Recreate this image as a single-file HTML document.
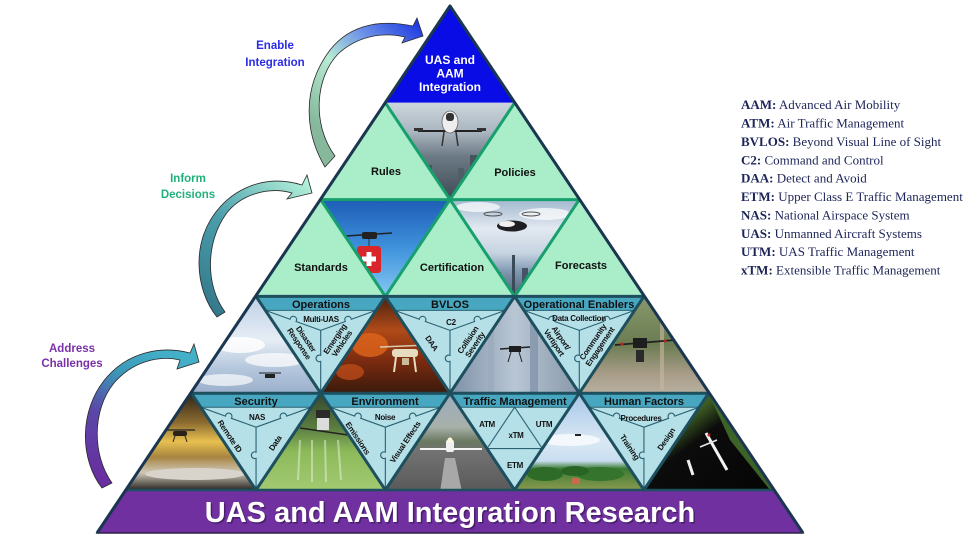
<!DOCTYPE html>
<html><head><meta charset="utf-8"><style>
html,body{margin:0;padding:0;background:#fff;}
svg{display:block;}
</style></head><body>
<svg width="975" height="538" viewBox="0 0 975 538" xmlns="http://www.w3.org/2000/svg" font-family="'Liberation Sans', Arial, sans-serif">
<defs>
 <linearGradient id="a1" gradientUnits="userSpaceOnUse" x1="322" y1="130" x2="420" y2="26">
  <stop offset="0" stop-color="#86b89c"/><stop offset="0.4" stop-color="#b8ecd4"/><stop offset="0.7" stop-color="#6a8ee8"/><stop offset="1" stop-color="#1e3be0"/>
 </linearGradient>
 <linearGradient id="a2" gradientUnits="userSpaceOnUse" x1="215" y1="312" x2="310" y2="185">
  <stop offset="0" stop-color="#347a8c"/><stop offset="0.5" stop-color="#4c9eac"/><stop offset="1" stop-color="#b2f0d8"/>
 </linearGradient>
 <linearGradient id="a3" gradientUnits="userSpaceOnUse" x1="100" y1="485" x2="160" y2="350">
  <stop offset="0" stop-color="#6a2ca0"/><stop offset="0.45" stop-color="#5a48a8"/><stop offset="0.75" stop-color="#3c98b8"/><stop offset="1" stop-color="#44b0c8"/>
 </linearGradient>

 <linearGradient id="g1" x1="0" y1="0" x2="0" y2="1"><stop offset="0" stop-color="#cbd5dc"/><stop offset="0.3" stop-color="#aab6c0"/><stop offset="0.55" stop-color="#6d7b86"/><stop offset="1" stop-color="#3e4a54"/></linearGradient>
 <linearGradient id="g2" x1="0" y1="0" x2="0" y2="1"><stop offset="0" stop-color="#1d5cb6"/><stop offset="0.5" stop-color="#3f92dc"/><stop offset="1" stop-color="#86c8f2"/></linearGradient>
 <linearGradient id="g3" x1="0" y1="0" x2="0" y2="1"><stop offset="0" stop-color="#a3b8cf"/><stop offset="0.3" stop-color="#e2e9f1"/><stop offset="0.55" stop-color="#c6d4e2"/><stop offset="0.75" stop-color="#7e96ae"/><stop offset="1" stop-color="#4d6276"/></linearGradient>
 <linearGradient id="g4" x1="0" y1="0" x2="0" y2="1"><stop offset="0" stop-color="#c0d0e6"/><stop offset="0.45" stop-color="#e6edf5"/><stop offset="0.75" stop-color="#b4c6dc"/><stop offset="1" stop-color="#9cb0cc"/></linearGradient>
 <linearGradient id="g5" x1="0" y1="0" x2="0" y2="1"><stop offset="0" stop-color="#4a2210"/><stop offset="0.35" stop-color="#b04a18"/><stop offset="0.65" stop-color="#7e2c10"/><stop offset="1" stop-color="#3a1a0c"/></linearGradient>
 <linearGradient id="g6" x1="0" y1="0" x2="1" y2="0"><stop offset="0" stop-color="#7e90a8"/><stop offset="0.5" stop-color="#b8c6d4"/><stop offset="1" stop-color="#8898aa"/></linearGradient>
 <linearGradient id="g7" x1="0" y1="0" x2="0" y2="1"><stop offset="0" stop-color="#86986c"/><stop offset="0.5" stop-color="#6c7c52"/><stop offset="0.8" stop-color="#a89c88"/><stop offset="1" stop-color="#b8b0a0"/></linearGradient>
 <linearGradient id="g8" x1="0" y1="0" x2="0" y2="1"><stop offset="0" stop-color="#2e2418"/><stop offset="0.3" stop-color="#8a6a30"/><stop offset="0.5" stop-color="#e8c050"/><stop offset="0.66" stop-color="#a88440"/><stop offset="0.82" stop-color="#cfc8b8"/><stop offset="1" stop-color="#2a2622"/></linearGradient>
 <linearGradient id="g9" x1="0" y1="0" x2="0" y2="1"><stop offset="0" stop-color="#34462c"/><stop offset="0.35" stop-color="#5a7c40"/><stop offset="0.6" stop-color="#8cba5a"/><stop offset="1" stop-color="#a2ca72"/></linearGradient>
 <linearGradient id="g10" x1="0" y1="0" x2="0" y2="1"><stop offset="0" stop-color="#9aacc0"/><stop offset="0.35" stop-color="#a8b0a8"/><stop offset="0.5" stop-color="#6a7860"/><stop offset="0.6" stop-color="#727272"/><stop offset="1" stop-color="#5a5a5a"/></linearGradient>
 <linearGradient id="g11" x1="0" y1="0" x2="0" y2="1"><stop offset="0" stop-color="#a6c6e8"/><stop offset="0.5" stop-color="#dae8f4"/><stop offset="0.7" stop-color="#c8def0"/><stop offset="0.78" stop-color="#3a7a30"/><stop offset="1" stop-color="#8a9a50"/></linearGradient>
 <linearGradient id="g12" x1="0" y1="0" x2="1" y2="1"><stop offset="0" stop-color="#6a9a42"/><stop offset="0.3" stop-color="#3a5a22"/><stop offset="0.45" stop-color="#0c0c0c"/><stop offset="1" stop-color="#050505"/></linearGradient>

 <clipPath id="c1"><polygon points="385.35,102.8 514.65,102.8 450,199.6"/></clipPath>
 <clipPath id="c2"><polygon points="320.7,199.6 450,199.6 385.35,296.4"/></clipPath>
 <clipPath id="c3"><polygon points="450,199.6 579.3,199.6 514.65,296.4"/></clipPath>
 <clipPath id="c4"><polygon points="256.05,296.4 191.4,393.2 320.7,393.2"/></clipPath>
 <clipPath id="c5"><polygon points="385.35,296.4 320.7,393.2 450,393.2"/></clipPath>
 <clipPath id="c6"><polygon points="514.65,296.4 450,393.2 579.3,393.2"/></clipPath>
 <clipPath id="c7"><polygon points="643.95,296.4 579.3,393.2 708.6,393.2"/></clipPath>
 <clipPath id="c8"><polygon points="191.4,393.2 126.75,490 256.05,490"/></clipPath>
 <clipPath id="c9"><polygon points="320.7,393.2 256.05,490 385.35,490"/></clipPath>
 <clipPath id="c10"><polygon points="450,393.2 385.35,490 514.65,490"/></clipPath>
 <clipPath id="c11"><polygon points="579.3,393.2 514.65,490 643.95,490"/></clipPath>
 <clipPath id="c12"><polygon points="708.6,393.2 643.95,490 773.25,490"/></clipPath>

 <g id="ypuz">
  <polygon points="0,0 129.3,0 64.65,96.8" fill="#b5e0e8"/>
  <polygon points="0,0 129.3,0 119.95,14 9.35,14" fill="#47a7c1"/>
  <line x1="9.35" y1="14" x2="119.95" y2="14" stroke="#2a6272" stroke-width="1"/>
  <path d="M9.35,14 L34,22.9 A3.3,3.3 0 1 1 40,25.1 L64.65,34 M119.95,14 L95.3,22.9 A3.3,3.3 0 1 0 89.3,25.1 L64.65,34 M64.65,34 L64.65,59 A3.3,3.3 0 1 0 64.65,65 L64.65,96.8" fill="none" stroke="#2a6272" stroke-width="1.1"/>
 </g>
</defs>

<rect width="975" height="538" fill="#fff"/>

<!-- Arrows -->
<path d="M325,167 C306,135 300,90 330,50 C352,22 385,20 413,26 L417,18 L423,36 L402,43 L405,37 C380,31 355,38 338,54 C315,78 312,125 335,156 Z" fill="url(#a1)" stroke="#2a2a2a" stroke-width="0.8"/>
<path d="M217,317 C195,290 190,240 220,207 C240,185 270,175 302,185 L307,175 L312,193 L287,199 L292,193 C268,186 240,195 226,214 C206,242 205,285 225,312 Z" fill="url(#a2)" stroke="#2a2a2a" stroke-width="0.8"/>
<path d="M102,488 C80,460 78,410 107,377 C128,353 160,345 190,353 L194,344 L199,362 L177,369 L180,360 C158,355 132,362 114,383 C92,410 92,455 112,483 Z" fill="url(#a3)" stroke="#2a2a2a" stroke-width="0.8"/>

<g font-weight="bold" font-size="11.5" text-anchor="middle">
 <text x="275" y="49" fill="#2b2be8">Enable</text>
 <text x="275" y="66" fill="#2b2be8">Integration</text>
 <text x="188" y="182" fill="#22b07a">Inform</text>
 <text x="188" y="198" fill="#22b07a">Decisions</text>
 <text x="72" y="352" fill="#7a30a8">Address</text>
 <text x="72" y="367" fill="#7a30a8">Challenges</text>
</g>

<!-- Top tier -->
<polygon points="450,6 385.35,102.8 514.65,102.8" fill="#0a0ce6"/>

<!-- Row 1 -->
<polygon points="385.35,102.8 320.7,199.6 450,199.6" fill="#aaedc9"/>
<polygon points="385.35,102.8 514.65,102.8 450,199.6" fill="url(#g1)"/>
<g clip-path="url(#c1)">
 <rect x="400" y="160" width="8" height="45" fill="#4c5a64"/><rect x="412" y="152" width="6" height="50" fill="#5a6872"/><rect x="425" y="165" width="7" height="40" fill="#46545e"/><rect x="470" y="155" width="7" height="50" fill="#46545e"/><rect x="484" y="148" width="6" height="55" fill="#566470"/><rect x="458" y="168" width="6" height="35" fill="#505e68"/>
 <line x1="418" y1="131" x2="482" y2="131" stroke="#222" stroke-width="2"/>
 <rect x="414" y="128" width="9" height="3" fill="#333"/><rect x="477" y="128" width="9" height="3" fill="#333"/>
 <ellipse cx="450" cy="122" rx="8" ry="11" fill="#eeeeee" stroke="#666" stroke-width="0.8"/>
 <rect x="446" y="113" width="8" height="8" rx="3" fill="#333"/>
 <line x1="444" y1="132" x2="442" y2="146" stroke="#333" stroke-width="1.5"/><line x1="456" y1="132" x2="458" y2="146" stroke="#333" stroke-width="1.5"/>
</g>
<polygon points="514.65,102.8 450,199.6 579.3,199.6" fill="#aaedc9"/>

<!-- Row 2 -->
<polygon points="320.7,199.6 256.05,296.4 385.35,296.4" fill="#aaedc9"/>
<polygon points="320.7,199.6 450,199.6 385.35,296.4" fill="url(#g2)"/>
<g clip-path="url(#c2)">
 <line x1="346" y1="236" x2="392" y2="233" stroke="#222" stroke-width="1.5"/>
 <rect x="362" y="232" width="15" height="7" rx="2" fill="#222"/>
 <line x1="369" y1="239" x2="369" y2="247" stroke="#333" stroke-width="1"/>
 <rect x="357" y="246" width="24" height="27" rx="3" fill="#d8262a"/>
 <rect x="366.5" y="252" width="5" height="14" fill="#fff"/><rect x="362" y="256.5" width="14" height="5" fill="#fff"/>
</g>
<polygon points="450,199.6 385.35,296.4 514.65,296.4" fill="#aaedc9"/>
<polygon points="450,199.6 579.3,199.6 514.65,296.4" fill="url(#g3)"/>
<g clip-path="url(#c3)">
 <ellipse cx="478" cy="207" rx="22" ry="5" fill="#fff" opacity="0.7"/>
 <ellipse cx="545" cy="214" rx="26" ry="6" fill="#fff" opacity="0.7"/>
 <ellipse cx="493" cy="214" rx="9" ry="2" fill="none" stroke="#555" stroke-width="1"/>
 <ellipse cx="531" cy="214" rx="9" ry="2" fill="none" stroke="#555" stroke-width="1"/>
 <ellipse cx="512" cy="226" rx="15" ry="5.5" fill="#1e1e24"/>
 <ellipse cx="507" cy="224" rx="8" ry="3" fill="#f0f0f0"/>
 <rect x="512" y="255" width="3" height="42" fill="#3a4a58"/>
 <rect x="495" y="272" width="6" height="25" fill="#4a5a68"/><rect x="522" y="268" width="6" height="30" fill="#445464"/>
</g>
<polygon points="579.3,199.6 514.65,296.4 643.95,296.4" fill="#aaedc9"/>

<!-- Row 3 -->
<polygon points="256.05,296.4 191.4,393.2 320.7,393.2" fill="url(#g4)"/>
<g clip-path="url(#c4)">
 <ellipse cx="240" cy="345" rx="25" ry="8" fill="#fff" opacity="0.8"/>
 <ellipse cx="275" cy="360" rx="30" ry="7" fill="#fff" opacity="0.7"/>
 <ellipse cx="225" cy="380" rx="28" ry="6" fill="#f0f4f8" opacity="0.8"/>
 <rect x="265" y="374" width="10" height="4" fill="#222"/>
 <line x1="259" y1="373" x2="281" y2="373" stroke="#222" stroke-width="1"/>
</g>
<use href="#ypuz" x="256.05" y="296.4"/>
<polygon points="385.35,296.4 320.7,393.2 450,393.2" fill="url(#g5)"/>
<g clip-path="url(#c5)">
 <ellipse cx="370" cy="345" rx="18" ry="12" fill="#e0641c" opacity="0.8"/>
 <ellipse cx="420" cy="330" rx="12" ry="10" fill="#d8581a" opacity="0.7"/>
 <ellipse cx="350" cy="372" rx="14" ry="8" fill="#c8501a" opacity="0.7"/>
 <line x1="380" y1="347" x2="428" y2="345" stroke="#d8ccb0" stroke-width="1.5"/>
 <rect x="392" y="349" width="26" height="8" rx="3" fill="#e6dcc0"/>
 <line x1="396" y1="357" x2="394" y2="372" stroke="#e6dcc0" stroke-width="2"/>
 <line x1="414" y1="357" x2="416" y2="372" stroke="#e6dcc0" stroke-width="2"/>
 <rect x="402" y="358" width="7" height="7" fill="#c8bc9c"/>
</g>
<use href="#ypuz" x="385.35" y="296.4"/>
<polygon points="514.65,296.4 450,393.2 579.3,393.2" fill="url(#g6)"/>
<g clip-path="url(#c6)">
 <rect x="488" y="300" width="6" height="95" fill="#9aaabb" opacity="0.7"/>
 <rect x="530" y="300" width="8" height="95" fill="#7888a0" opacity="0.6"/>
 <line x1="500" y1="349" x2="530" y2="347" stroke="#222" stroke-width="1.5"/>
 <rect x="509" y="346" width="12" height="6" fill="#1e1e1e"/>
 <line x1="511" y1="352" x2="508" y2="362" stroke="#222" stroke-width="1"/><line x1="519" y1="352" x2="522" y2="362" stroke="#222" stroke-width="1"/>
</g>
<use href="#ypuz" x="514.65" y="296.4"/>
<polygon points="643.95,296.4 579.3,393.2 708.6,393.2" fill="url(#g7)"/>
<g clip-path="url(#c7)">
 <rect x="660" y="310" width="4" height="80" fill="#c8b8a0" opacity="0.6"/>
 <line x1="615" y1="345" x2="675" y2="340" stroke="#222" stroke-width="1.8"/>
 <rect x="633" y="338" width="14" height="10" fill="#1e1e1e"/>
 <circle cx="622" cy="344" r="1.5" fill="#c02020"/><circle cx="665" cy="341" r="1.5" fill="#c02020"/>
 <rect x="636" y="350" width="8" height="12" fill="#2a2a2a"/>
</g>

<!-- Row 4 -->
<polygon points="191.4,393.2 126.75,490 256.05,490" fill="url(#g8)"/>
<g clip-path="url(#c8)">
 <ellipse cx="195" cy="474" rx="50" ry="6" fill="#d8d4cc"/>
 <line x1="165" y1="430" x2="195" y2="430" stroke="#222" stroke-width="1.2"/>
 <rect x="173" y="431" width="14" height="5" rx="2" fill="#2a2218"/>
 <line x1="175" y1="436" x2="173" y2="442" stroke="#2a2218" stroke-width="1"/><line x1="185" y1="436" x2="187" y2="442" stroke="#2a2218" stroke-width="1"/>
</g>
<use href="#ypuz" x="191.4" y="393.2"/>
<polygon points="320.7,393.2 256.05,490 385.35,490" fill="url(#g9)"/>
<g clip-path="url(#c9)">
 <g stroke="#e8f4e0" stroke-width="2" opacity="0.5"><line x1="300" y1="440" x2="298" y2="480"/><line x1="312" y1="440" x2="312" y2="482"/><line x1="325" y1="440" x2="326" y2="482"/><line x1="338" y1="440" x2="341" y2="480"/></g>
 <line x1="300" y1="428" x2="348" y2="435" stroke="#222" stroke-width="1.5"/>
 <rect x="316" y="410" width="14" height="8" fill="#2a2a2a"/>
 <rect x="317" y="418" width="12" height="12" fill="#dcdcdc"/>
</g>
<use href="#ypuz" x="320.7" y="393.2"/>
<polygon points="450,393.2 385.35,490 514.65,490" fill="url(#g10)"/>
<g clip-path="url(#c10)">
 <polygon points="445,458 455,458 462,492 440,492" fill="#a8a8a8"/>
 <line x1="420" y1="449" x2="482" y2="449" stroke="#f4f4f4" stroke-width="2"/>
 <rect x="446" y="440" width="8" height="12" rx="2" fill="#f0f0f0"/>
 <circle cx="450" cy="440" r="2.5" fill="#fffbe0"/>
</g>
<polygon points="450,393.2 579.3,393.2 514.65,490" fill="#b5e0e8"/>
<polygon points="450,393.2 579.3,393.2 569.95,407.2 459.35,407.2" fill="#47a7c1"/>
<line x1="459.35" y1="407.2" x2="569.95" y2="407.2" stroke="#2a6272" stroke-width="1"/>
<polygon points="514.65,407.2 487,448.6 542.3,448.6" fill="none" stroke="#2a6272" stroke-width="1.1"/>
<polygon points="579.3,393.2 514.65,490 643.95,490" fill="url(#g11)"/>
<g clip-path="url(#c11)">
 <ellipse cx="570" cy="440" rx="30" ry="6" fill="#fff" opacity="0.7"/>
 <ellipse cx="545" cy="474" rx="18" ry="7" fill="#2e6a28"/>
 <ellipse cx="600" cy="474" rx="24" ry="7" fill="#35742c"/>
 <ellipse cx="575" cy="471" rx="14" ry="5" fill="#2a6424"/>
 <rect x="572" y="478" width="8" height="6" fill="#c86a50"/>
 <rect x="575" y="434" width="6" height="2" fill="#222"/>
</g>
<use href="#ypuz" x="579.3" y="393.2"/>
<polygon points="708.6,393.2 643.95,490 773.25,490" fill="url(#g12)"/>
<g clip-path="url(#c12)">
 <polygon points="708.6,393.2 740,440 775,490 770,490 730,440" fill="#4a7a30" opacity="0.8"/>
 <line x1="706" y1="433" x2="727" y2="470" stroke="#f4f4f4" stroke-width="3"/>
 <line x1="700" y1="447" x2="717" y2="440" stroke="#e8e8e8" stroke-width="1.5"/>
 <line x1="688" y1="460" x2="693" y2="475" stroke="#f0f0f0" stroke-width="3"/>
 <circle cx="709" cy="435" r="1.5" fill="#c02020"/>
</g>

<!-- Banner -->
<polygon points="126.75,490 773.25,490 803,533 97,533" fill="#7030a0" stroke="#2e2048" stroke-width="1.5"/>

<!-- Separators -->
<g fill="none" stroke-linejoin="round">
 <polyline points="385.35,102.8 450,199.6 514.65,102.8" stroke="#17a06e" stroke-width="3"/>
 <line x1="320.7" y1="199.6" x2="579.3" y2="199.6" stroke="#17a06e" stroke-width="3"/>
 <polyline points="320.7,199.6 385.35,296.4 450,199.6 514.65,296.4 579.3,199.6" stroke="#17a06e" stroke-width="3"/>
 <line x1="256.05" y1="296.4" x2="643.95" y2="296.4" stroke="#1d4f5e" stroke-width="3"/>
 <polyline points="256.05,296.4 320.7,393.2 385.35,296.4 450,393.2 514.65,296.4 579.3,393.2 643.95,296.4" stroke="#1d4f5e" stroke-width="3"/>
 <line x1="191.4" y1="393.2" x2="708.6" y2="393.2" stroke="#1d4f5e" stroke-width="3"/>
 <polyline points="191.4,393.2 256.05,490 320.7,393.2 385.35,490 450,393.2 514.65,490 579.3,393.2 643.95,490 708.6,393.2" stroke="#1d4f5e" stroke-width="3"/>
 <line x1="126.75" y1="490" x2="773.25" y2="490" stroke="#1d4f5e" stroke-width="2.5"/>
 <polyline points="97,533 450,6 803,533" stroke="#1a3650" stroke-width="3"/>
</g>

<!-- Pyramid text -->
<g font-weight="bold" text-anchor="middle">
 <g font-size="12" fill="#fff">
  <text x="450" y="64">UAS and</text>
  <text x="450" y="77.5">AAM</text>
  <text x="450" y="91">Integration</text>
 </g>
 <g font-size="11" fill="#111">
  <text x="386" y="175">Rules</text>
  <text x="515" y="176">Policies</text>
  <text x="321" y="271">Standards</text>
  <text x="452" y="271">Certification</text>
  <text x="581" y="269">Forecasts</text>
 </g>
 <g font-size="11" fill="#111">
  <text x="321" y="308">Operations</text>
  <text x="450" y="308">BVLOS</text>
  <text x="579" y="308">Operational Enablers</text>
  <text x="256" y="405">Security</text>
  <text x="385" y="405">Environment</text>
  <text x="515" y="405">Traffic Management</text>
  <text x="644" y="405">Human Factors</text>
 </g>
 <g font-size="8" fill="#111" letter-spacing="-0.3">
  <text x="321" y="322">Multi-UAS</text>
  <text transform="translate(303,341) rotate(56)"><tspan x="0" y="-1">Disaster</tspan><tspan x="0" y="7.5">Response</tspan></text>
  <text transform="translate(338,341) rotate(-56)"><tspan x="0" y="-1">Emerging</tspan><tspan x="0" y="7.5">Vehicles</tspan></text>
  <text x="451" y="325">C2</text>
  <text transform="translate(432,343) rotate(56)" y="3">DAA</text>
  <text transform="translate(471,342) rotate(-56)"><tspan x="0" y="-1">Collision</tspan><tspan x="0" y="7.5">Severity</tspan></text>
  <text x="579" y="321">Data Collection</text>
  <text transform="translate(558,340) rotate(56)"><tspan x="0" y="-1">Airport/</tspan><tspan x="0" y="7.5">Vertiport</tspan></text>
  <text transform="translate(596,344) rotate(-56)"><tspan x="0" y="-1">Community</tspan><tspan x="0" y="7.5">Engagement</tspan></text>
  <text x="257" y="420">NAS</text>
  <text transform="translate(230,436) rotate(56)" y="3">Remote ID</text>
  <text transform="translate(275,443) rotate(-56)" y="3">Data</text>
  <text x="385" y="420">Noise</text>
  <text transform="translate(358,438) rotate(56)" y="3">Emissions</text>
  <text transform="translate(405,442) rotate(-56)" y="3">Visual Effects</text>
  <text x="487" y="427">ATM</text>
  <text x="544" y="427">UTM</text>
  <text x="516" y="438">xTM</text>
  <text x="515" y="468">ETM</text>
  <text x="641" y="421">Procedures</text>
  <text transform="translate(630,447) rotate(56)" y="3">Training</text>
  <text transform="translate(666,439) rotate(-56)" y="3">Design</text>
 </g>
</g>

<!-- Banner text -->
<text x="451.5" y="523.5" font-size="29" font-weight="bold" text-anchor="middle" fill="#2a1040" opacity="0.55">UAS and AAM Integration Research</text>
<text x="450" y="522" font-size="29" font-weight="bold" text-anchor="middle" fill="#ffffff">UAS and AAM Integration Research</text>

<!-- Legend -->
<g font-family="'Liberation Serif', 'Times New Roman', serif" font-size="13" fill="#1c2458">
 <text x="741" y="109"><tspan font-weight="bold">AAM:</tspan> Advanced Air Mobility</text>
 <text x="741" y="127.5"><tspan font-weight="bold">ATM:</tspan> Air Traffic Management</text>
 <text x="741" y="146"><tspan font-weight="bold">BVLOS:</tspan> Beyond Visual Line of Sight</text>
 <text x="741" y="164.5"><tspan font-weight="bold">C2:</tspan> Command and Control</text>
 <text x="741" y="182.5"><tspan font-weight="bold">DAA:</tspan> Detect and Avoid</text>
 <text x="741" y="201"><tspan font-weight="bold">ETM:</tspan> Upper Class E Traffic Management</text>
 <text x="741" y="219.5"><tspan font-weight="bold">NAS:</tspan> National Airspace System</text>
 <text x="741" y="238"><tspan font-weight="bold">UAS:</tspan> Unmanned Aircraft Systems</text>
 <text x="741" y="256"><tspan font-weight="bold">UTM:</tspan> UAS Traffic Management</text>
 <text x="741" y="274.5"><tspan font-weight="bold">xTM:</tspan> Extensible Traffic Management</text>
</g>
</svg>
</body></html>
